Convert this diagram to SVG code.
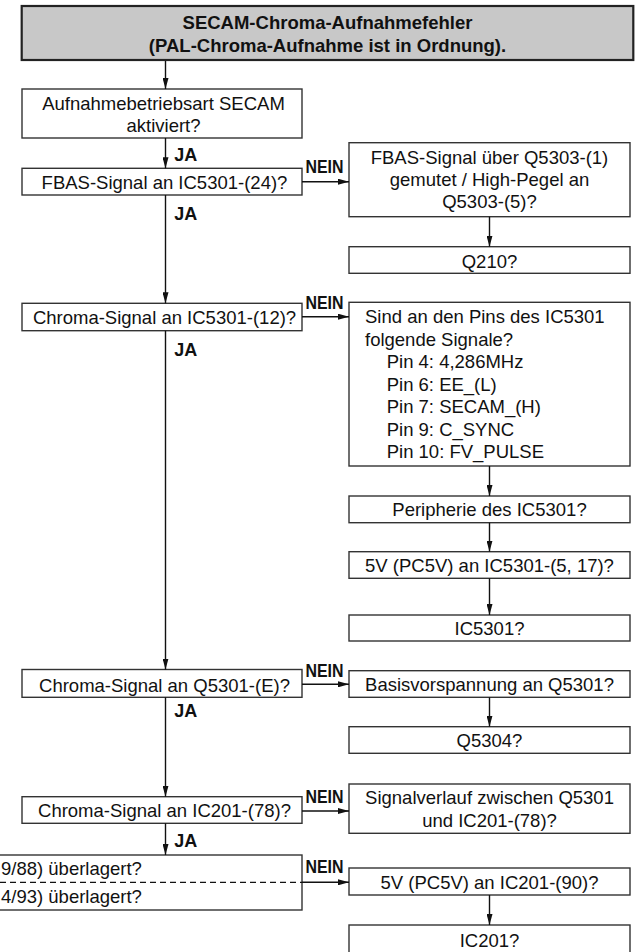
<svg xmlns="http://www.w3.org/2000/svg" width="635" height="952" viewBox="0 0 635 952">
<style>
  .box { fill: #ffffff; stroke: #333333; stroke-width: 1.4; }
  .title { fill: #c8c8c8; stroke: #222222; stroke-width: 2.2; }
  .t { font-family: "Liberation Sans", Arial, Helvetica, sans-serif; font-size: 18.5px; fill: #111111; }
  .c { text-anchor: middle; }
  .tb { font-family: "Liberation Sans", Arial, Helvetica, sans-serif; font-size: 18.5px; font-weight: bold; fill: #111111; text-anchor: middle; }
  .lbl { font-family: "Liberation Sans", Arial, Helvetica, sans-serif; font-size: 18px; font-weight: bold; fill: #111111; }
  .ln { fill: none; stroke: #111111; stroke-width: 1.4; }
  .arr { marker-end: url(#ah); }
  .dash { fill: none; stroke: #111111; stroke-width: 1.3; stroke-dasharray: 6 4; }
</style>
<defs>
  <marker id="ah" markerUnits="userSpaceOnUse" markerWidth="11" markerHeight="6" refX="11" refY="3" orient="auto">
    <path d="M0,0 L11,3 L0,6 z" fill="#111111"/>
  </marker>
</defs>

<g id="title">
  <rect class="title" x="21.7" y="6" width="611.6" height="54"/>
  <text class="tb" x="327.5" y="29.3">SECAM-Chroma-Aufnahmefehler</text>
  <text class="tb" x="327.5" y="51.7">(PAL-Chroma-Aufnahme ist in Ordnung).</text>
</g>

<g id="n1">
  <rect class="box" x="22" y="89" width="280" height="49"/>
  <text class="t c" x="163.5" y="110">Aufnahmebetriebsart SECAM</text>
  <text class="t c" x="163.5" y="132">aktiviert?</text>
</g>

<g id="n2">
  <rect class="box" x="22" y="168.3" width="280" height="26.7"/>
  <text class="t c" x="164.5" y="188.5">FBAS-Signal an IC5301-(24)?</text>
</g>

<g id="r1">
  <rect class="box" x="349" y="142.7" width="281" height="74"/>
  <text class="t c" x="489.5" y="163.5">FBAS-Signal über Q5303-(1)</text>
  <text class="t c" x="489.5" y="185.8">gemutet / High-Pegel an</text>
  <text class="t c" x="489.5" y="208">Q5303-(5)?</text>
</g>

<g id="q210">
  <rect class="box" x="349" y="246.7" width="281" height="26.6"/>
  <text class="t c" x="489.5" y="268">Q210?</text>
</g>

<g id="n3">
  <rect class="box" x="22" y="303.3" width="280" height="27.4"/>
  <text class="t c" x="164.5" y="324">Chroma-Signal an IC5301-(12)?</text>
</g>

<g id="r2">
  <rect class="box" x="349" y="302.3" width="281" height="163.7"/>
  <text class="t" x="365" y="323.3">Sind an den Pins des IC5301</text>
  <text class="t" x="365" y="345.6">folgende Signale?</text>
  <text class="t" x="386.7" y="368">Pin 4: 4,286MHz</text>
  <text class="t" x="386.7" y="390.5">Pin 6: EE_(L)</text>
  <text class="t" x="386.7" y="413">Pin 7: SECAM_(H)</text>
  <text class="t" x="386.7" y="435.5">Pin 9: C_SYNC</text>
  <text class="t" x="386.7" y="458">Pin 10: FV_PULSE</text>
</g>

<g id="peri">
  <rect class="box" x="349" y="496" width="281" height="26.7"/>
  <text class="t c" x="489.5" y="516">Peripherie des IC5301?</text>
</g>

<g id="v5a">
  <rect class="box" x="349" y="551.7" width="281" height="26.6"/>
  <text class="t c" x="489.5" y="572.3">5V (PC5V) an IC5301-(5, 17)?</text>
</g>

<g id="ic5301">
  <rect class="box" x="349" y="615" width="281" height="26"/>
  <text class="t c" x="489.5" y="635">IC5301?</text>
</g>

<g id="n4">
  <rect class="box" x="22" y="669.5" width="280" height="27.8"/>
  <text class="t c" x="164.5" y="691.7">Chroma-Signal an Q5301-(E)?</text>
</g>

<g id="basis">
  <rect class="box" x="349" y="670.7" width="281" height="26.6"/>
  <text class="t c" x="489.5" y="690.7">Basisvorspannung an Q5301?</text>
</g>

<g id="q5304">
  <rect class="box" x="349" y="726.7" width="281" height="26.6"/>
  <text class="t c" x="489.5" y="746.7">Q5304?</text>
</g>

<g id="n5">
  <rect class="box" x="22" y="796.7" width="280" height="26.6"/>
  <text class="t c" x="164.5" y="816.7">Chroma-Signal an IC201-(78)?</text>
</g>

<g id="sig">
  <rect class="box" x="349" y="784" width="281" height="49.3"/>
  <text class="t c" x="489.5" y="804">Signalverlauf zwischen Q5301</text>
  <text class="t c" x="489.5" y="826.7">und IC201-(78)?</text>
</g>

<g id="n6">
  <rect class="box" x="-10" y="855" width="312" height="55"/>
  <text class="t" x="1" y="875">9/88) überlagert?</text>
  <text class="t" x="1" y="902.7">4/93) überlagert?</text>
</g>

<g id="v5b">
  <rect class="box" x="349" y="868" width="281" height="27"/>
  <text class="t c" x="489.5" y="889">5V (PC5V) an IC201-(90)?</text>
</g>

<g id="ic201">
  <rect class="box" x="349" y="925" width="281" height="30"/>
  <text class="t c" x="489.5" y="946.5">IC201?</text>
</g>

<g id="connectors">
  <line class="ln arr" x1="165.5" y1="61" x2="165.5" y2="89"/>
  <line class="ln arr" x1="165.5" y1="138" x2="165.5" y2="168.3"/>
  <line class="ln arr" x1="165.5" y1="195" x2="165.5" y2="303.3"/>
  <line class="ln arr" x1="165.5" y1="330.7" x2="165.5" y2="669.5"/>
  <line class="ln arr" x1="165.5" y1="697.3" x2="165.5" y2="796.7"/>
  <line class="ln arr" x1="165.5" y1="823.3" x2="165.5" y2="855"/>

  <line class="ln arr" x1="302" y1="181.7" x2="349" y2="181.7"/>
  <line class="ln arr" x1="302" y1="316.7" x2="349" y2="316.7"/>
  <line class="ln arr" x1="302" y1="684.3" x2="349" y2="684.3"/>
  <line class="ln arr" x1="302" y1="811" x2="349" y2="811"/>
  <line class="dash" x1="0" y1="882.3" x2="302" y2="882.3"/>
  <line class="ln arr" x1="302" y1="882.3" x2="349" y2="882.3"/>

  <line class="ln arr" x1="489.5" y1="216.7" x2="489.5" y2="246.7"/>
  <line class="ln arr" x1="489.5" y1="466" x2="489.5" y2="496"/>
  <line class="ln arr" x1="489.5" y1="522.7" x2="489.5" y2="551.7"/>
  <line class="ln arr" x1="489.5" y1="578.3" x2="489.5" y2="615"/>
  <line class="ln arr" x1="489.5" y1="697.3" x2="489.5" y2="726.7"/>
  <line class="ln arr" x1="489.5" y1="895" x2="489.5" y2="925"/>

  <text class="lbl" x="174.3" y="160.5">JA</text>
  <text class="lbl" x="174.3" y="220">JA</text>
  <text class="lbl" x="174.3" y="356">JA</text>
  <text class="lbl" x="174.3" y="716.7">JA</text>
  <text class="lbl" x="174.3" y="846.7">JA</text>

  <text class="lbl" x="305.5" y="173.3" textLength="38" lengthAdjust="spacingAndGlyphs">NEIN</text>
  <text class="lbl" x="305.5" y="309" textLength="38" lengthAdjust="spacingAndGlyphs">NEIN</text>
  <text class="lbl" x="305.5" y="676.5" textLength="38" lengthAdjust="spacingAndGlyphs">NEIN</text>
  <text class="lbl" x="305.5" y="802.7" textLength="38" lengthAdjust="spacingAndGlyphs">NEIN</text>
  <text class="lbl" x="305.5" y="873" textLength="38" lengthAdjust="spacingAndGlyphs">NEIN</text>
</g>
</svg>
